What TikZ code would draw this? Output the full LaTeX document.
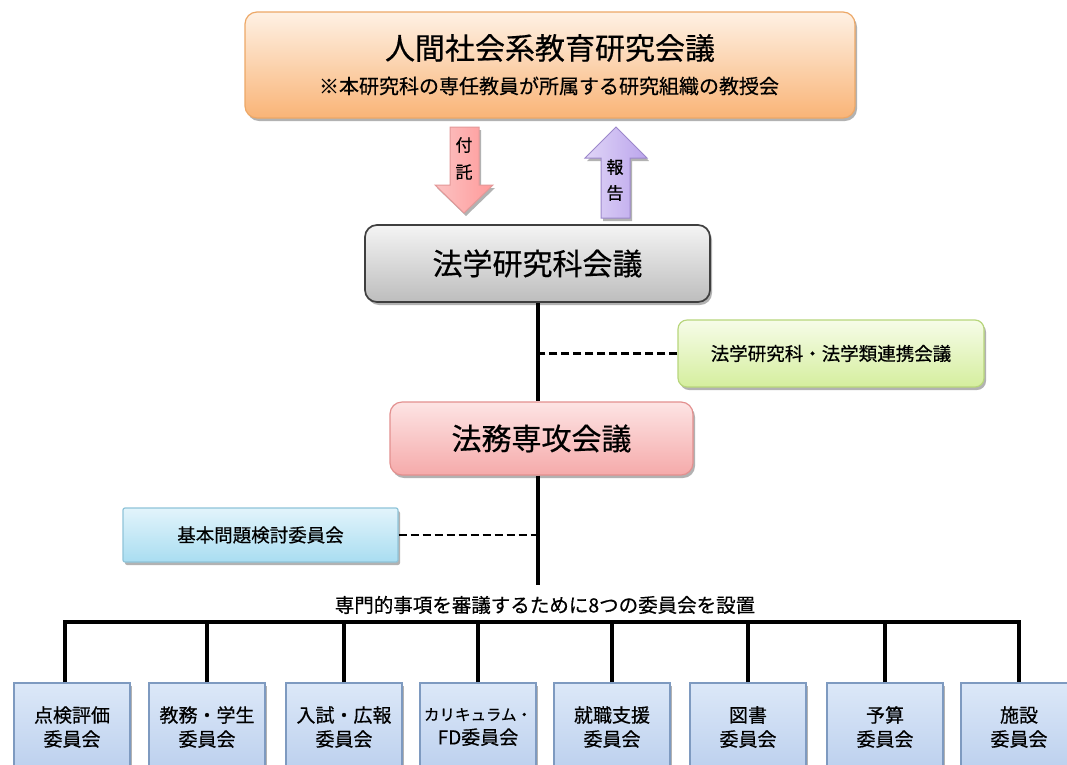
\documentclass[tikz,border=0pt]{standalone}
\usepackage{fontspec}
\setmainfont{Noto Sans CJK JP}[FakeBold=0.5]
\usetikzlibrary{shadows}
\definecolor{orT}{HTML}{FEF1E4}
\definecolor{orB}{HTML}{F9B477}
\definecolor{orD}{HTML}{EDA867}
\definecolor{grT}{HTML}{F4F4F4}
\definecolor{grB}{HTML}{BDBDBD}
\definecolor{grD}{HTML}{3F3F3F}
\definecolor{pkT}{HTML}{FDE4E4}
\definecolor{pkB}{HTML}{F5AAAA}
\definecolor{pkD}{HTML}{E3908F}
\definecolor{gnT}{HTML}{F6FCE8}
\definecolor{gnB}{HTML}{D5EE9E}
\definecolor{gnD}{HTML}{B8D67C}
\definecolor{blT}{HTML}{E2F4FB}
\definecolor{blB}{HTML}{A9DDF1}
\definecolor{blD}{HTML}{8FC4D9}
\definecolor{cbT}{HTML}{DCE8F8}
\definecolor{cbB}{HTML}{B0C7EA}
\definecolor{cbD}{HTML}{7E9AC0}
\definecolor{daL}{HTML}{FBC3C3}
\definecolor{daR}{HTML}{FF9A9A}
\definecolor{daD}{HTML}{E39898}
\definecolor{uaL}{HTML}{E0D5F7}
\definecolor{uaR}{HTML}{BBA5EC}
\definecolor{uaD}{HTML}{9C88CB}
\tikzset{
  shad/.style={drop shadow={opacity=0.3,shadow xshift=2pt,shadow yshift=-3pt,fill=black}},
  boxbase/.style={rectangle,rounded corners=12pt,line width=1.2pt,shad,inner sep=0pt},
  topbox/.style={boxbase,draw=orD,top color=orT,bottom color=orB,minimum width=610pt,minimum height=106pt},
  graybox/.style={boxbase,line width=1.7pt,draw=grD,top color=grT,bottom color=grB,minimum width=345pt,minimum height=77pt,font=\fontsize{30}{36}\selectfont},
  pinkbox/.style={boxbase,draw=pkD,top color=pkT,bottom color=pkB,minimum width=303pt,minimum height=73pt,font=\fontsize{30}{36}\selectfont},
  greenbox/.style={boxbase,rounded corners=9pt,draw=gnD,top color=gnT,bottom color=gnB,minimum width=306pt,minimum height=67pt,font=\fontsize{18.5}{22}\selectfont},
  bluebox/.style={boxbase,rounded corners=2pt,draw=blD,top color=blT,bottom color=blB,minimum width=275pt,minimum height=54pt,font=\fontsize{18.5}{22}\selectfont},
  cbox/.style={rectangle,line width=1.1pt,draw=cbD,top color=cbT,bottom color=cbB,minimum width=116pt,minimum height=120pt,shad},
  ctext/.style={align=center,font=\fontsize{19}{24}\selectfont,inner sep=0pt},
  conn/.style={line width=3.2pt},
  dconn/.style={line width=2.7pt,dash pattern=on 8pt off 4pt},
  arrtext/.style={font=\fontsize{17}{20}\selectfont,inner sep=0pt},
}
\begin{document}
\begin{tikzpicture}[x=1pt,y=-1pt]
\useasboundingbox (0,0) rectangle (1067,764);
\clip (0,0) rectangle (1067,764);
\fill[white] (0,0) rectangle (1067,764);

% top box
\node[topbox] (top) at (550,65) {};
\node[inner sep=0pt,font=\fontsize{30}{36}\selectfont] (toptitle) at (550,48) {人間社会系教育研究会議};
\node[inner sep=0pt,font=\fontsize{20}{24}\selectfont] (topsub) at (549,86) {※本研究科の専任教員が所属する研究組織の教授会};

% block arrows
\draw[line width=1pt,draw=daD,left color=daL,right color=daR,shad]
  (450,127) -- (479,127) -- (479,185) -- (493,185) -- (464,213) -- (435,185) -- (450,185) -- cycle;
\node[arrtext] (fu) at (464,145) {付};
\node[arrtext] (taku) at (464,172) {託};
\draw[line width=1pt,draw=uaD,left color=uaL,right color=uaR,shad]
  (616,127) -- (647,158) -- (630,158) -- (630,218) -- (601,218) -- (601,158) -- (585,158) -- cycle;
\node[arrtext] (ho) at (615,167) {報};
\node[arrtext] (koku) at (615,193) {告};

% main boxes
\node[graybox] (hg) at (537.5,263.5) {法学研究科会議};
\node[greenbox] (gn) at (831,353.5) {法学研究科・法学類連携会議};
\node[pinkbox] (hs) at (541.5,438.5) {法務専攻会議};
\node[bluebox] (kb) at (260.5,535) {基本問題検討委員会};

\coordinate (v1) at (538,0);
\draw[conn] (hg.south -| v1) -- (hs.north -| v1);
\draw[dconn] (gn.west) -- (gn.west -| v1);
\coordinate (j) at (538,585);
\draw[conn] (hs.south -| v1) -- (j);
\draw[dconn] (kb.east) -- (kb.east -| v1);

\node[inner sep=0pt,font=\fontsize{19.5}{24}\selectfont] (lab) at (545,605) {専門的事項を審議するために8つの委員会を設置};

% committees
\coordinate (bar) at (0,622);
\node[cbox] (c1) at (72,743) {};
\node[cbox] (c2) at (207,743) {};
\node[cbox] (c3) at (344,743) {};
\node[cbox] (c4) at (478,743) {};
\node[cbox] (c5) at (612,743) {};
\node[cbox] (c6) at (748,743) {};
\node[cbox] (c7) at (885,743) {};
\node[cbox] (c8) at (1019,743) {};
\node[ctext] (t1) at (72,727) {点検評価\\委員会};
\node[ctext] (t2) at (207,727) {教務・学生\\委員会};
\node[ctext] (t3) at (344,727) {入試・広報\\委員会};
\node[ctext] (t4) at (478,727) {{\fontsize{15.5}{24}\selectfont カリキュラム・}\\FD委員会};
\node[ctext] (t5) at (612,727) {就職支援\\委員会};
\node[ctext] (t6) at (748,727) {図書\\委員会};
\node[ctext] (t7) at (885,727) {予算\\委員会};
\node[ctext] (t8) at (1019,727) {施設\\委員会};

\draw[conn] ([xshift=-7pt]c1.north) -- ([xshift=-7pt]c1.north |- bar) -- (c8.north |- bar) -- (c8.north);
\foreach \c in {c2,c3,c4,c5,c6,c7} {
  \draw[conn] (\c.north) -- (\c.north |- bar);
}
\end{tikzpicture}
\end{document}
